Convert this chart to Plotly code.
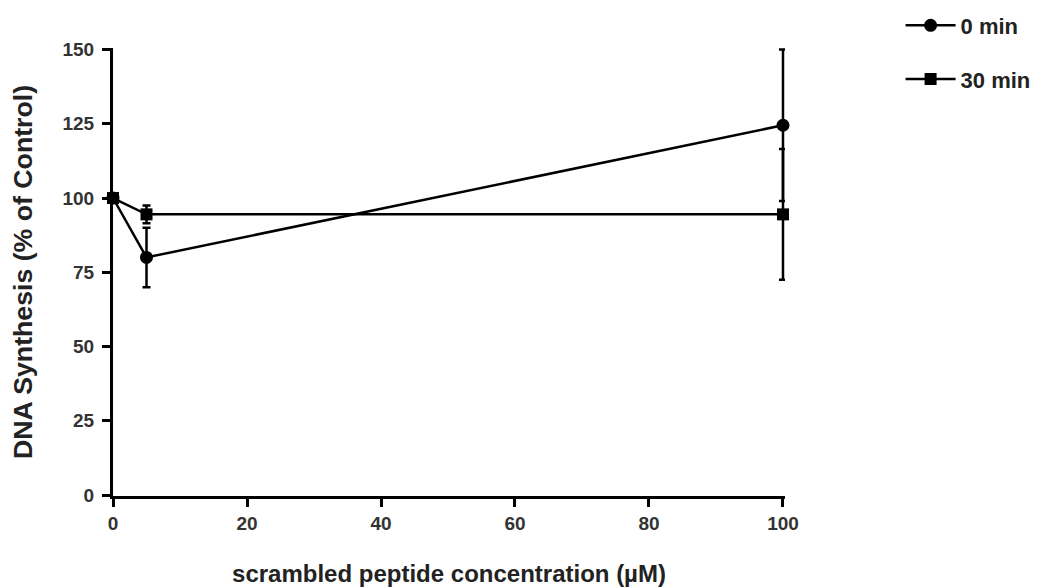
import plotly.graph_objects as go

x_vals = [0, 5, 100]
min0_y = [100, 80, 124.5]
min0_err = [0, 10, 25.5]
min30_y = [100, 94.5, 94.5]
min30_err = [0, 3, 22]
series_names = ["0 min", "30 min"]
x_ticks = [0, 20, 40, 60, 80, 100]
y_ticks = [0, 25, 50, 75, 100, 125, 150]

fig = go.Figure()
fig.add_trace(go.Scatter(
    x=x_vals, y=min0_y, name=series_names[0], mode="lines+markers",
    line=dict(color="black", width=2.5),
    marker=dict(symbol="circle", size=13, color="black"),
    error_y=dict(type="data", array=min0_err, color="black", thickness=2.5, width=4),
    cliponaxis=False, legendgroup="a"))
fig.add_trace(go.Scatter(
    x=x_vals, y=min30_y, name=series_names[1], mode="lines+markers",
    line=dict(color="black", width=2.5),
    marker=dict(symbol="square", size=12, color="black"),
    error_y=dict(type="data", array=min30_err, color="black", thickness=2.5, width=4),
    cliponaxis=False, legendgroup="b"))

font_bold = "Liberation Sans"
fig.update_layout(
    width=1043, height=587,
    margin=dict(l=105, r=266, t=40, b=98.6, autoexpand=False),
    plot_bgcolor="white", paper_bgcolor="white",
    font=dict(family=font_bold, color="#222", size=14),
    legend=dict(x=1.172, y=1.097, xanchor="left", yanchor="top",
                traceorder="grouped", tracegroupgap=22, itemwidth=50,
                font=dict(size=22, family=font_bold, weight="bold", color="#222")),
    xaxis=dict(range=[0, 100.3], tickvals=x_ticks, showgrid=False, zeroline=False,
               showline=True, linecolor="black", linewidth=3, automargin=False,
               ticks="outside", ticklen=8, tickwidth=3, tickcolor="black",
               tickfont=dict(size=19, weight="bold", color="#333"),
               title=dict(text="scrambled peptide concentration (µM)", standoff=33,
                          font=dict(size=24, weight="bold", color="#222"))),
    yaxis=dict(range=[-0.3, 150.5], tickvals=y_ticks, showgrid=False, zeroline=False,
               showline=True, linecolor="black", linewidth=3, automargin=False,
               ticks="outside", ticklen=8, tickwidth=3, tickcolor="black",
               ticklabelstandoff=4,
               tickfont=dict(size=19, weight="bold", color="#333"),
               title=dict(text="DNA Synthesis (% of Control)", standoff=26,
                          font=dict(size=26.7, weight="bold", color="#222"))),
)
fig.write_html("out.html")
